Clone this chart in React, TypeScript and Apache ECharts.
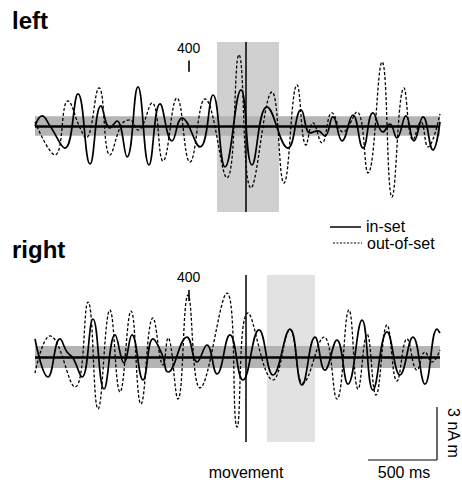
import React, { useEffect, useRef } from "react";
import * as echarts from "echarts";

// time in ms relative to movement onset, amplitude in nA m
const T_MIN = -1529;
const T_MAX = 1406;

const leftInSetT = [-1529,-1478,-1420,-1312,-1217,-1130,-1051,-986,-935,-862,-783,-703,-623,-536,-464,-333,-239,-152,-36,43,152,304,399,464,522,572,630,696,775,848,920,993,1043,1094,1159,1217,1283,1355,1406];
const leftInSetV = [0,0.57,0,-1.25,1.81,-2.15,1.13,-0.11,0.28,-1.75,2.21,-2.21,1.25,-0.85,0.45,-1.19,1.75,-2.32,2.04,-2.21,1.08,-1.25,0.91,-0.40,-0.28,-0.57,0.51,-0.85,0.62,-1.25,0.74,-0.34,0.11,-0.68,0.57,-0.85,0.51,-1.36,0.23];

const leftOutT = [-1529,-1384,-1290,-1203,-1159,-1065,-986,-899,-841,-783,-681,-601,-500,-406,-297,-138,-51,36,188,275,370,435,486,551,623,703,804,884,986,1058,1145,1210,1268,1319,1406];
const leftOutV = [0.23,-1.64,1.42,-0.11,-0.68,2.15,-1.64,0.11,0.34,-0.23,1.30,-1.98,1.58,-2.04,1.53,-2.94,4.02,-3.51,1.92,-3.23,2.32,-1.08,0.17,-0.96,0.74,-0.34,0.79,-2.66,3.62,-4.02,2.15,-0.79,0.23,-1.19,0.68];

const rightInSetT = [-1529,-1435,-1348,-1297,-1254,-1188,-1109,-1029,-949,-884,-826,-746,-674,-609,-565,-428,-355,-283,-210,-116,-22,94,196,319,406,500,572,659,739,841,920,1022,1116,1210,1297,1384,1406];
const rightInSetV = [1.02,-1.13,1.02,0.28,-0.06,-1.13,2.15,-1.81,1.25,-0.34,1.25,-1.30,1.02,0.17,-0.85,1.13,-0.28,0.68,-0.96,1.25,-1.30,1.53,-1.02,1.58,-1.58,1.13,-0.74,0.96,-1.53,2.09,-1.87,1.42,-1.02,1.13,-1.53,1.58,1.36];

const rightOutT = [-1529,-1420,-1239,-1145,-1072,-986,-913,-833,-761,-674,-601,-565,-493,-420,-333,-138,-65,14,196,319,413,565,659,746,812,877,942,1022,1094,1167,1239,1297,1348,1406];
const rightOutV = [-0.91,1.19,-1.70,3.11,-2.94,2.66,-1.98,2.60,-2.66,2.21,-0.45,1.08,-2.38,3.51,-1.75,3.62,-3.96,2.49,-1.30,1.53,-1.47,1.13,-2.38,2.66,-1.81,1.30,-2.15,1.81,-1.36,1.02,-0.74,0.28,-0.28,0.40];

// shaded windows (ms) and noise band (nA m)
const leftWindow = [-210, 239];
const rightWindow = [152, 500];
const leftBand = 0.55;
const rightBand = 0.62;
const markerTime = -415;
const markerLabel = "400";
const leftTick = [3.06, 3.7];
const rightTick = [3.17, 3.79];

const FONT = "Liberation Sans, Arial, Helvetica, sans-serif";

function pairs(t: number[], v: number[]) {
  return t.map((x, i) => [x, v[i]]);
}

function panelSeries(
  idx: number,
  inT: number[], inV: number[], outT: number[], outV: number[],
  win: number[], band: number, winColor: string, tick: number[]
) {
  return [
    {
      type: "line",
      name: "in-set",
      xAxisIndex: idx,
      yAxisIndex: idx,
      data: pairs(inT, inV),
      symbol: "none",
      smooth: 0.45,
      lineStyle: { color: "#000", width: 1.7 },
      markArea: {
        silent: true,
        data: [
          [{ xAxis: win[0], itemStyle: { color: winColor } }, { xAxis: win[1] }],
          [{ yAxis: -band, itemStyle: { color: "#b4b4b4" } }, { yAxis: band }],
        ],
      },
      z: 3,
    },
    {
      type: "line",
      name: "out-of-set",
      xAxisIndex: idx,
      yAxisIndex: idx,
      data: pairs(outT, outV),
      symbol: "none",
      smooth: 0.45,
      lineStyle: { color: "#000", width: 1.3, type: [3, 2] },
      markLine: {
        silent: true,
        symbol: ["none", "none"],
        label: { show: false },
        data: [
          { yAxis: 0, lineStyle: { color: "#000", width: 2.5, type: "solid" } },
          { xAxis: 0, lineStyle: { color: "#000", width: 1.5, type: "solid" } },
          [
            { coord: [markerTime, tick[0]], lineStyle: { color: "#000", width: 1.6, type: "solid" } },
            {
              coord: [markerTime, tick[1]],
              label: {
                show: true, position: "end", formatter: markerLabel, distance: 6,
                color: "#000", fontSize: 14, fontFamily: FONT,
              },
            },
          ],
        ],
      },
      z: 4,
    },
  ];
}

export default function App() {
  const ref = useRef<HTMLDivElement>(null);
  useEffect(() => {
    if (!ref.current) return;
    const chart = echarts.init(ref.current, null, { renderer: "svg" });
    const option = {
      animation: false,
      backgroundColor: "#fff",
      grid: [
        { left: 35, top: 42, width: 405, height: 170 },
        { left: 35, top: 275, width: 405, height: 167 },
      ],
      xAxis: [
        { type: "value", gridIndex: 0, min: T_MIN, max: T_MAX, show: false },
        { type: "value", gridIndex: 1, min: T_MIN, max: T_MAX, show: false },
      ],
      yAxis: [
        { type: "value", gridIndex: 0, min: -4.87, max: 4.75, show: false },
        { type: "value", gridIndex: 1, min: -4.81, max: 4.64, show: false },
      ],
      series: [
        ...panelSeries(0, leftInSetT, leftInSetV, leftOutT, leftOutV, leftWindow, leftBand, "#d0d0d0", leftTick),
        ...panelSeries(1, rightInSetT, rightInSetV, rightOutT, rightOutV, rightWindow, rightBand, "#e2e2e2", rightTick),
      ],
      graphic: [
        { type: "text", left: 12, top: 8, style: { text: "left", font: `bold 24px ${FONT}`, fill: "#000" } },
        { type: "text", left: 12, top: 237, style: { text: "right", font: `bold 24px ${FONT}`, fill: "#000" } },
        { type: "line", shape: { x1: 330, y1: 227, x2: 361, y2: 227 }, style: { stroke: "#000", lineWidth: 1.5 } },
        { type: "text", x: 366, y: 226, style: { text: "in-set", font: `16px ${FONT}`, fill: "#000", verticalAlign: "middle" } },
        { type: "line", shape: { x1: 333, y1: 243, x2: 362, y2: 243 }, style: { stroke: "#000", lineWidth: 1.2, lineDash: [2, 1.5] } },
        { type: "text", x: 367, y: 243, style: { text: "out-of-set", font: `16px ${FONT}`, fill: "#000", verticalAlign: "middle" } },
        { type: "line", shape: { x1: 437, y1: 407, x2: 437, y2: 460 }, style: { stroke: "#000", lineWidth: 1.2 } },
        { type: "line", shape: { x1: 368, y1: 460, x2: 437, y2: 460 }, style: { stroke: "#000", lineWidth: 1.2 } },
        { type: "text", x: 453, y: 433, rotation: -Math.PI / 2, style: { text: "3 nA m", font: `16px ${FONT}`, fill: "#000", align: "center", verticalAlign: "middle" } },
        { type: "text", x: 404, y: 472, style: { text: "500 ms", font: `16px ${FONT}`, fill: "#000", align: "center", verticalAlign: "middle" } },
        { type: "text", x: 246, y: 472, style: { text: "movement", font: `16px ${FONT}`, fill: "#000", align: "center", verticalAlign: "middle" } },
      ],
    };
    chart.setOption(option as any);
    return () => chart.dispose();
  }, []);
  return (
    <div
      ref={ref}
      style={{ position: "fixed", left: 0, top: 0, width: 462, height: 483, background: "#fff" }}
    />
  );
}
